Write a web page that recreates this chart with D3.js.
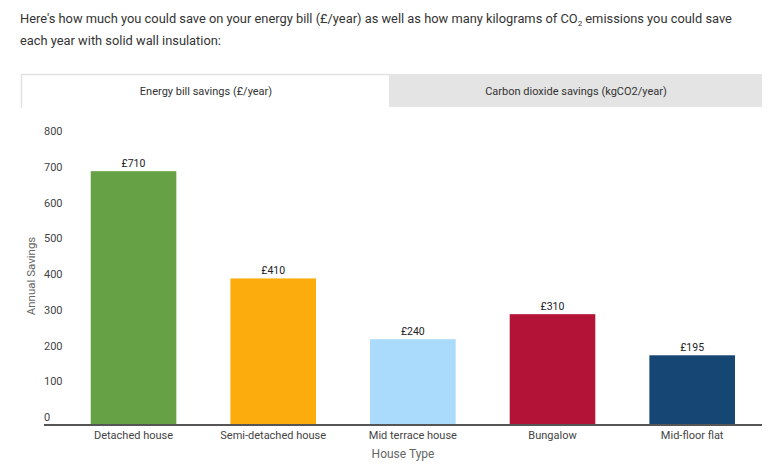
<!DOCTYPE html>
<html>
<head>
<meta charset="utf-8">
<script src="https://cdn.jsdelivr.net/npm/d3@7"></script>
<style>
  html, body { margin: 0; padding: 0; background: #fff; }
  svg { display: block; font-family: Roboto, "Noto Sans", sans-serif; }
</style>
</head>
<body>
<svg id="chart" width="782" height="471"></svg>
<script>
const categories = ["Detached house", "Semi-detached house", "Mid terrace house", "Bungalow", "Mid-floor flat"];
const savings = [710, 410, 240, 310, 195];
const valueLabels = ["£710", "£410", "£240", "£310", "£195"];
const barColors = ["#67a146", "#fcad0d", "#aadbfc", "#b41338", "#154674"];
const yTicks = [0, 100, 200, 300, 400, 500, 600, 700, 800];
const tabLabels = ["Energy bill savings (£/year)", "Carbon dioxide savings (kgCO2/year)"];

const svg = d3.select("#chart");

// Intro text
const intro = svg.append("text").attr("x", 20).attr("y", 23)
  .attr("font-size", 12.85).attr("fill", "#333");
intro.append("tspan").text("Here's how much you could save on your energy bill (£/year) as well as how many kilograms of CO");
intro.append("tspan").attr("font-size", 8).attr("dy", 3).text("2");
intro.append("tspan").attr("dy", -3).text(" emissions you could save");
svg.append("text").attr("x", 20).attr("y", 45).attr("font-size", 12.85).attr("fill", "#333")
  .text("each year with solid wall insulation:");

// Tabs
svg.append("rect").attr("x", 389).attr("y", 74).attr("width", 373).attr("height", 33).attr("fill", "#e4e4e4");
svg.append("path").attr("d", "M21.5,108 V74.5 H389").attr("fill", "none").attr("stroke", "#e2e2e2").attr("stroke-width", 1.5);
svg.append("text").attr("x", 206).attr("y", 95).attr("text-anchor", "middle").attr("font-size", 11).attr("fill", "#333").text(tabLabels[0]);
svg.append("text").attr("x", 576).attr("y", 95).attr("text-anchor", "middle").attr("font-size", 11).attr("fill", "#333").text(tabLabels[1]);

// Scales
const y = d3.scaleLinear().domain([0, 800]).range([425, 139]);
const x = d3.scaleBand().domain(categories).range([63.7, 762]).paddingInner(0.387).paddingOuter(0.1935);

// Y tick labels (left aligned, drawn above their value positions)
const yAxis = d3.axisLeft(y).tickValues(yTicks).tickSize(0).tickPadding(0);
const gy = svg.append("g").attr("transform", "translate(44,0)").call(yAxis);
gy.select(".domain").remove();
gy.selectAll("text").attr("text-anchor", "start").attr("x", 0).attr("dy", "-0.4em")
  .attr("font-size", 11).attr("font-family", "Roboto, sans-serif").attr("fill", "#444");

// Bars
svg.append("g").selectAll("rect").data(categories).join("rect")
  .attr("x", d => x(d)).attr("width", x.bandwidth())
  .attr("y", (d, i) => y(savings[i])).attr("height", (d, i) => y(0) - y(savings[i]))
  .attr("fill", (d, i) => barColors[i]);

// Value labels
svg.append("g").selectAll("text").data(categories).join("text")
  .attr("x", d => x(d) + x.bandwidth() / 2).attr("y", (d, i) => y(savings[i]) - 4)
  .attr("text-anchor", "middle").attr("font-size", 10.5).attr("fill", "#222")
  .text((d, i) => valueLabels[i]);

// X axis
const xAxis = d3.axisBottom(x).tickSize(0).tickPadding(6);
const gx = svg.append("g").attr("transform", "translate(0,425)").call(xAxis);
gx.select(".domain").remove();
gx.selectAll("text").attr("font-size", 11).attr("font-family", "Roboto, sans-serif").attr("fill", "#444");
svg.append("line").attr("x1", 44).attr("x2", 762).attr("y1", 425).attr("y2", 425)
  .attr("stroke", "#555").attr("stroke-width", 2);

// Axis titles
svg.append("text").attr("transform", "translate(35,276) rotate(-90)").attr("text-anchor", "middle")
  .attr("font-size", 11.5).attr("fill", "#666").text("Annual Savings");
svg.append("text").attr("x", 403).attr("y", 458).attr("text-anchor", "middle")
  .attr("font-size", 12).attr("fill", "#666").text("House Type");
</script>
</body>
</html>
